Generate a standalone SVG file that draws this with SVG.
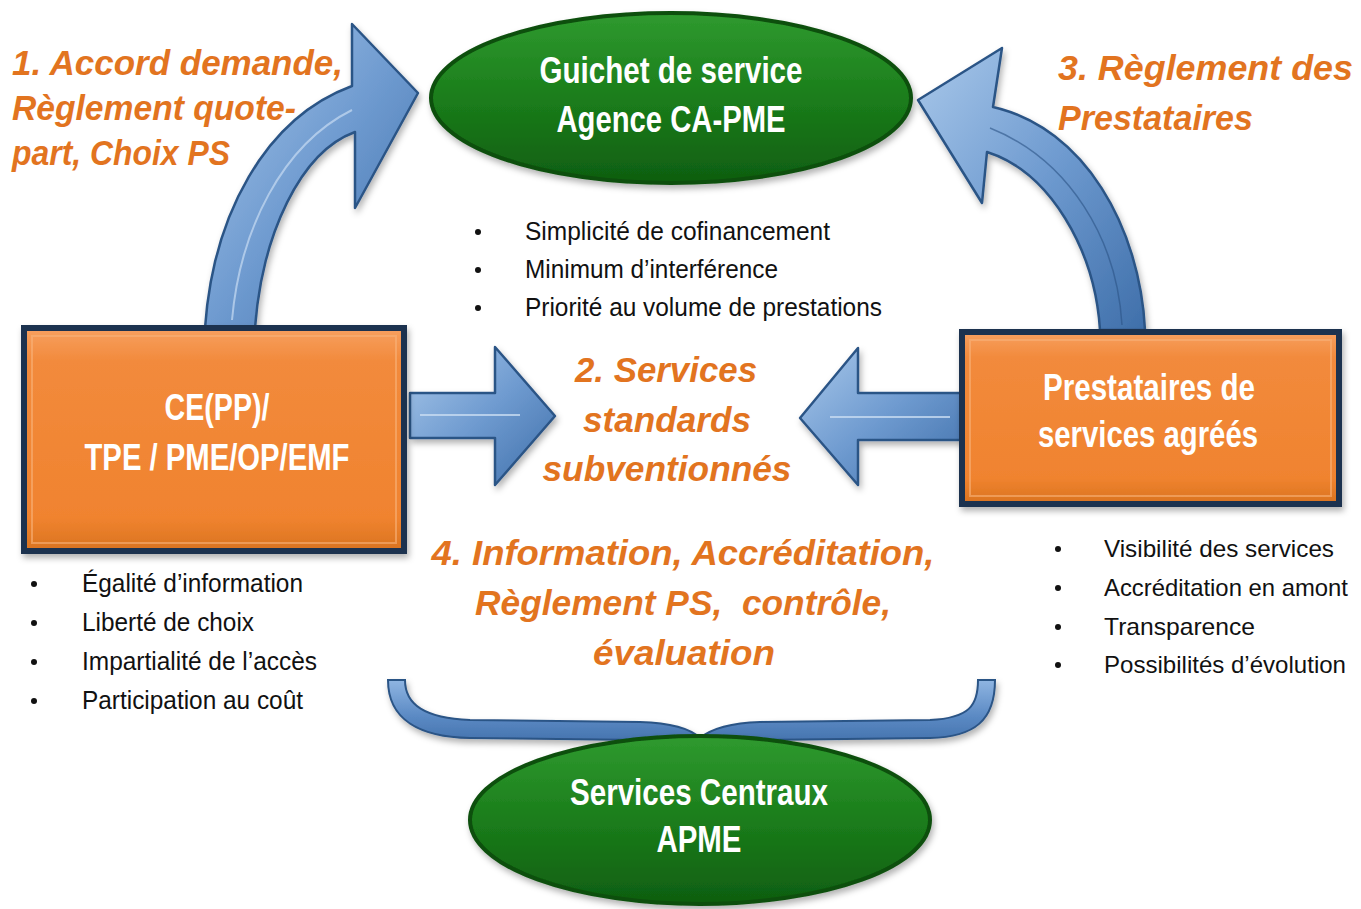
<svg xmlns="http://www.w3.org/2000/svg" width="1361" height="909" viewBox="0 0 1361 909">
<defs>
<linearGradient id="gGreen" x1="0" y1="0" x2="0" y2="1">
<stop offset="0" stop-color="#2f9a2f"/><stop offset="0.5" stop-color="#1b7d1b"/><stop offset="1" stop-color="#0f5e10"/>
</linearGradient>
<linearGradient id="gOrange" x1="0" y1="0" x2="0" y2="1">
<stop offset="0" stop-color="#f7a060"/><stop offset="0.15" stop-color="#f28a3c"/><stop offset="0.85" stop-color="#f0832f"/><stop offset="1" stop-color="#d9731f"/>
</linearGradient>
<linearGradient id="gBlue" x1="0" y1="0" x2="1" y2="1">
<stop offset="0" stop-color="#a9c8ea"/><stop offset="0.5" stop-color="#6f9bd0"/><stop offset="1" stop-color="#3f6faa"/>
</linearGradient>
<linearGradient id="gBlueV" x1="0" y1="0" x2="0" y2="1">
<stop offset="0" stop-color="#8fb5e2"/><stop offset="0.5" stop-color="#5b8ac4"/><stop offset="1" stop-color="#3c6aa5"/>
</linearGradient>
<filter id="sh" x="-10%" y="-10%" width="125%" height="130%">
<feDropShadow dx="2" dy="4" stdDeviation="3" flood-color="#000" flood-opacity="0.3"/>
</filter>
<style>
.node{font-family:"Liberation Sans",Arial,sans-serif;font-weight:bold;fill:#ffffff;font-size:36px}
.step{font-family:"Liberation Sans",Arial,sans-serif;font-weight:bold;font-style:italic;fill:#e2741f;font-size:35px}
.bul{font-family:"Liberation Sans",Arial,sans-serif;fill:#111;font-size:26px}
.bulr{font-family:"Liberation Sans",Arial,sans-serif;fill:#111;font-size:24px}
.dot{fill:#111}
.ell{fill:url(#gGreen);stroke:#0c4f0c;stroke-width:4}
.box{fill:url(#gOrange);stroke:#1d3350;stroke-width:6}
.arr{fill:url(#gBlue);stroke:#2c5486;stroke-width:2.5;stroke-linejoin:round}
</style>
</defs>
<rect width="1361" height="909" fill="#ffffff"/>

<g id="connectors">
<path class="arr" filter="url(#sh)" d="M205,328 C213,215 265,118 352,86 L352,24 L418,93 L355,208 L355,132 C300,152 262,235 255,328 Z"/>
<path d="M232,320 C240,230 282,145 352,110" fill="none" stroke="#c8dcf2" stroke-width="2" opacity="0.7"/>
<path class="arr" filter="url(#sh)" d="M1145,330 C1140,228 1085,128 993,107 L1002,48 L918,100 L982,203 L987,152 C1050,172 1095,250 1100,330 Z"/>
<path d="M1122,325 C1117,240 1070,160 990,128" fill="none" stroke="#2c5486" stroke-width="1.5" opacity="0.6"/>
<path class="arr" filter="url(#sh)" d="M410,393 L495,393 L495,347 L555,416 L495,485 L495,438 L410,438 Z"/>
<path d="M420,415 L520,415" stroke="#c8dcf2" stroke-width="2" opacity="0.8"/>
<path class="arr" filter="url(#sh)" d="M962,393 L858,393 L858,348 L800,418 L858,485 L858,440 L962,440 Z"/>
<path d="M950,417 L830,417" stroke="#c8dcf2" stroke-width="2" opacity="0.8"/>
<path filter="url(#sh)" d="M388,680 L405,680 C405,705 425,718 470,720 L640,722 C670,723 690,728 700,738 C712,728 732,723 760,722 L930,720 C970,718 978,705 978,680 L995,680 C995,720 975,737 930,738 L760,740 C735,741 715,745 700,752 C685,745 665,741 640,740 L470,738 C420,737 388,720 388,680 Z" fill="url(#gBlueV)" stroke="#2c5486" stroke-width="2"/>
</g>

<g id="node-guichet">
<ellipse class="ell" filter="url(#sh)" cx="671" cy="98" rx="240" ry="85"/>
<text class="node" x="671" y="83" text-anchor="middle" textLength="263" lengthAdjust="spacingAndGlyphs">Guichet de service</text>
<text class="node" x="671" y="132" text-anchor="middle" textLength="229" lengthAdjust="spacingAndGlyphs">Agence CA-PME</text>
</g>

<g id="node-central">
<ellipse class="ell" filter="url(#sh)" cx="700" cy="820" rx="230" ry="84"/>
<text class="node" x="699" y="805" text-anchor="middle" textLength="258" lengthAdjust="spacingAndGlyphs">Services Centraux</text>
<text class="node" x="699" y="852" text-anchor="middle" textLength="85" lengthAdjust="spacingAndGlyphs">APME</text>
</g>

<g id="node-ce">
<rect class="box" filter="url(#sh)" x="24" y="328" width="380" height="223"/>
<rect x="32" y="336" width="364" height="207" fill="none" stroke="#f9b27a" stroke-width="2" opacity="0.6"/>
<text class="node" x="217" y="420" text-anchor="middle" textLength="105" lengthAdjust="spacingAndGlyphs">CE(PP)/</text>
<text class="node" x="217" y="470" text-anchor="middle" textLength="265" lengthAdjust="spacingAndGlyphs">TPE / PME/OP/EMF</text>
</g>

<g id="node-prest">
<rect class="box" filter="url(#sh)" x="962" y="332" width="377" height="172"/>
<rect x="970" y="340" width="361" height="156" fill="none" stroke="#f9b27a" stroke-width="2" opacity="0.6"/>
<text class="node" x="1149" y="400" text-anchor="middle" textLength="212" lengthAdjust="spacingAndGlyphs">Prestataires de</text>
<text class="node" x="1148" y="447" text-anchor="middle" textLength="220" lengthAdjust="spacingAndGlyphs">services agréés</text>
</g>

<g id="labels">
<text class="step" x="12" y="75" textLength="331" lengthAdjust="spacingAndGlyphs">1. Accord demande,</text>
<text class="step" x="12" y="120" textLength="284" lengthAdjust="spacingAndGlyphs">Règlement quote-</text>
<text class="step" x="12" y="165" textLength="218" lengthAdjust="spacingAndGlyphs">part, Choix PS</text>
<text class="step" x="1058" y="80" textLength="295" lengthAdjust="spacingAndGlyphs">3. Règlement des</text>
<text class="step" x="1058" y="130" textLength="195" lengthAdjust="spacingAndGlyphs">Prestataires</text>
<text class="step" x="666" y="382" text-anchor="middle" textLength="182" lengthAdjust="spacingAndGlyphs">2. Services</text>
<text class="step" x="667" y="432" text-anchor="middle" textLength="168" lengthAdjust="spacingAndGlyphs">standards</text>
<text class="step" x="667" y="481" text-anchor="middle" textLength="249" lengthAdjust="spacingAndGlyphs">subventionnés</text>
<text class="step" x="683" y="565" text-anchor="middle" textLength="503" lengthAdjust="spacingAndGlyphs">4. Information, Accréditation,</text>
<text class="step" x="683" y="615" text-anchor="middle" textLength="416" lengthAdjust="spacingAndGlyphs" xml:space="preserve">Règlement PS,  contrôle,</text>
<text class="step" x="684" y="665" text-anchor="middle" textLength="182" lengthAdjust="spacingAndGlyphs">évaluation</text>
</g>

<g id="bullets-middle">
<circle class="dot" cx="478" cy="232" r="3"/><text class="bul" x="525" y="240" textLength="305" lengthAdjust="spacingAndGlyphs">Simplicité de cofinancement</text>
<circle class="dot" cx="478" cy="270" r="3"/><text class="bul" x="525" y="278" textLength="253" lengthAdjust="spacingAndGlyphs">Minimum d’interférence</text>
<circle class="dot" cx="478" cy="308" r="3"/><text class="bul" x="525" y="316" textLength="357" lengthAdjust="spacingAndGlyphs">Priorité au volume de prestations</text>
</g>
<g id="bullets-left">
<circle class="dot" cx="34" cy="584" r="3"/><text class="bul" x="82" y="592" textLength="221" lengthAdjust="spacingAndGlyphs">Égalité d’information</text>
<circle class="dot" cx="34" cy="623" r="3"/><text class="bul" x="82" y="631" textLength="172" lengthAdjust="spacingAndGlyphs">Liberté de choix</text>
<circle class="dot" cx="34" cy="662" r="3"/><text class="bul" x="82" y="670" textLength="235" lengthAdjust="spacingAndGlyphs">Impartialité de l’accès</text>
<circle class="dot" cx="34" cy="701" r="3"/><text class="bul" x="82" y="709" textLength="221" lengthAdjust="spacingAndGlyphs">Participation au coût</text>
</g>
<g id="bullets-right">
<circle class="dot" cx="1058" cy="549" r="3"/><text class="bulr" x="1104" y="557" textLength="230" lengthAdjust="spacingAndGlyphs">Visibilité des services</text>
<circle class="dot" cx="1058" cy="588" r="3"/><text class="bulr" x="1104" y="596" textLength="244" lengthAdjust="spacingAndGlyphs">Accréditation en amont</text>
<circle class="dot" cx="1058" cy="627" r="3"/><text class="bulr" x="1104" y="635" textLength="151" lengthAdjust="spacingAndGlyphs">Transparence</text>
<circle class="dot" cx="1058" cy="665" r="3"/><text class="bulr" x="1104" y="673" textLength="242" lengthAdjust="spacingAndGlyphs">Possibilités d’évolution</text>
</g>
</svg>
